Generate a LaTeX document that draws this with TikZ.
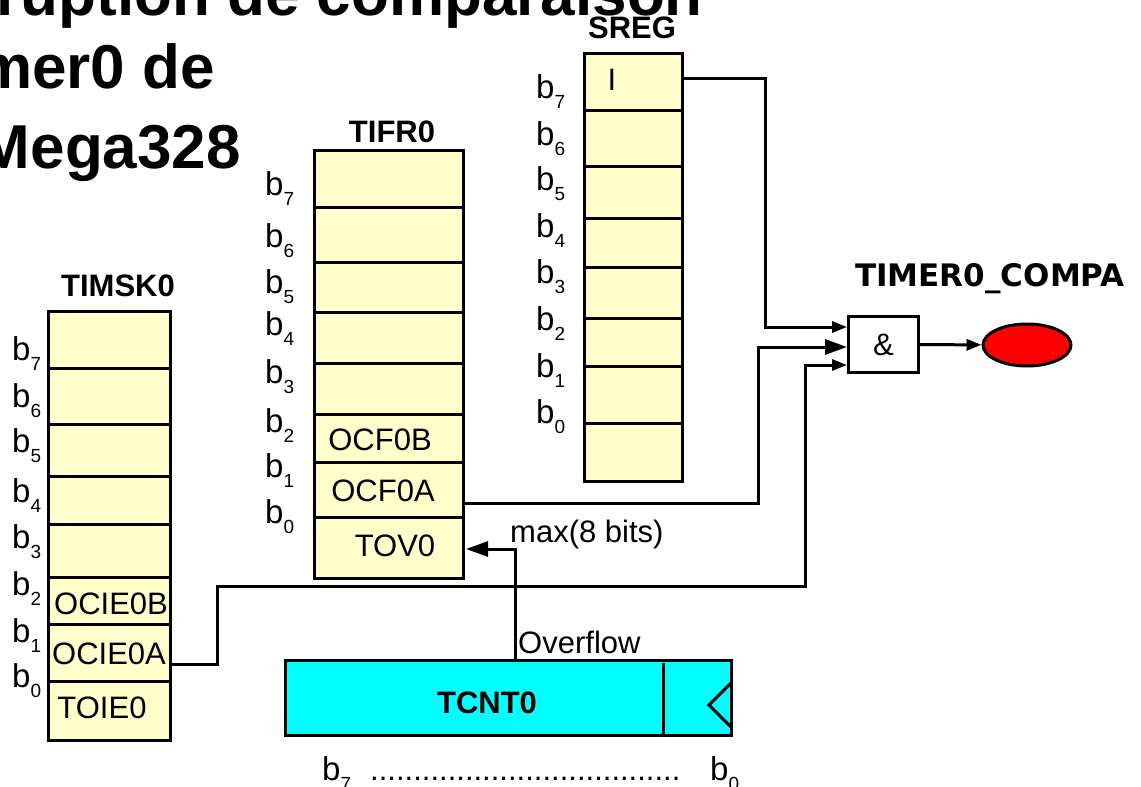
\documentclass[tikz,border=0pt]{standalone}
\usepackage{fontspec}
\setmainfont{Liberation Sans}
\newfontfamily\dejavu{DejaVu Sans}
\usetikzlibrary{shapes.geometric,arrows.meta}

\definecolor{regfill}{HTML}{FFFFCC}
\definecolor{cntfill}{HTML}{00FFFF}
\newcommand{\bitlbl}[1]{{\fontsize{33}{36}\selectfont b}\raisebox{-10pt}{\fontsize{19}{19}\selectfont #1}}

\tikzset{
  reg/.style={draw, fill=regfill, line width=3pt},
  wire/.style={line width=3pt},
  arr/.style={-{Triangle[length=15pt,width=11pt]}},
  bigarr/.style={-{Triangle[length=22pt,width=15pt]}},
  txt/.style={font=\fontsize{31}{36}\selectfont, inner sep=0},
  titulo/.style={font=\bfseries\fontsize{31}{36}\selectfont, inner sep=0},
}

\begin{document}
\begin{tikzpicture}[x=1pt,y=-1pt]
\useasboundingbox (0,0) rectangle (1141,787);
\clip (0,0) rectangle (1141,787);

% titulo (cortado por el borde)
\node[font=\bfseries\fontsize{62}{70}\selectfont, anchor=base east, inner sep=0] (tit1) at (703,16) {Interruption de comparaison};
\node[font=\bfseries\fontsize{62}{70}\selectfont, anchor=base east, inner sep=0] (tit2) at (215,88) {du Timer0 de};
\node[font=\bfseries\fontsize{62}{70}\selectfont, anchor=base east, inner sep=0] (tit3) at (241,168) {l'ATMega328};

% TIMSK0
\draw[reg] (48,311) rectangle (170,740);
\foreach \y in {368,424,476,524,577,624,681}
  \draw[line width=3pt] (48,\y) -- (170,\y);
\node[titulo] (timsk) at (118,286) {TIMSK0};
\foreach \n/\y in {7/360,6/407,5/452,4/502,3/548,2/595,1/642,0/687}
  \node[txt, anchor=base west] (mskb\n) at (12,\y) {\bitlbl{\n}};
\node[txt] (ocieb) at (111,604) {OCIE0B};
\node[txt] (ociea) at (109,654) {OCIE0A};
\node[txt] (toie) at (102,708) {TOIE0};

% TIFR0
\draw[reg] (314,150) rectangle (463,578);
\foreach \y in {207,262,312,363,414,462,517}
  \draw[line width=3pt] (314,\y) -- (463,\y);
\node[titulo] (tifr) at (392,132) {TIFR0};
\foreach \n/\y in {7/195,6/247,5/293,4/335,3/383,2/432,1/477,0/523}
  \node[txt, anchor=base west] (flgb\n) at (265,\y) {\bitlbl{\n}};
\node[txt] (ocfb) at (380,440) {OCF0B};
\node[txt] (ocfa) at (383,491) {OCF0A};
\node[txt] (tovl) at (395,546) {TOV0};

% SREG
\draw[reg] (584,53) rectangle (682,481);
\foreach \y in {110,166,218,267,318,366,423}
  \draw[line width=3pt] (584,\y) -- (682,\y);
\node[titulo] (sreg) at (632,28) {SREG};
\foreach \n/\y in {7/98,6/145,5/190,4/237,3/283,2/330,1/377,0/423}
  \node[txt, anchor=base west] (srb\n) at (536,\y) {\bitlbl{\n}};
\node[txt] (ibit) at (612,80) {I};

% puerta AND y vector
\node[draw, fill=white, line width=3pt, minimum width=70pt, minimum height=56pt,
      font=\fontsize{31}{36}\selectfont] (gate) at (883.5,344.5) {\&};
\node[draw, ellipse, fill=red, line width=3pt, minimum width=88pt,
      minimum height=42pt, inner sep=0] (compa) at (1027,345) {};
\node[font=\dejavu\bfseries\fontsize{31}{36}\selectfont, anchor=base, inner sep=0]
      (compalbl) at (990,286) {TIMER0\_COMPA};

% TCNT0
\node[draw, fill=cntfill, line width=3pt, minimum width=446pt, minimum height=75pt,
      inner sep=0] (tcnt) at (508.5,698) {};
\draw[line width=3pt] (663,663) -- (663,736);
\draw[line width=3pt] (732,682) -- (709,705) -- (732,728); % reloj
\node[titulo] (tcntlbl) at (487,703) {TCNT0};
\node[txt, anchor=base west] (b7) at (322,780) {\bitlbl{7}};
\node[txt, anchor=base west] (dots) at (370,780) {....................................};
\node[txt, anchor=base west] (b0) at (710,780) {\bitlbl{0}};

% puntos de conexion
\coordinate (ipin) at (683,78);
\coordinate (ocfapin) at (465,503);
\coordinate (ociapin) at (172,664);
\coordinate (tovpin) at (466,549);
\coordinate (ovf) at (515,659);
\coordinate (gin1) at ([yshift=17.5pt]gate.west);
\coordinate (gin2) at ([yshift=-2.5pt]gate.west);
\coordinate (gin3) at ([yshift=-20.5pt]gate.west);

% cables
\draw[wire,arr] (ipin) -- (765,78) |- (gin1);
\draw[wire,bigarr] (ocfapin) -- (758,503) |- (gin2);
\draw[wire,arr] (ociapin) -- (217,664) |- (805,586) |- (gin3);
\draw[wire,bigarr] (ovf) |- (tovpin);
\draw[wire,arr] (gate) -- (compa);

\node[txt, anchor=base west] (ovflbl) at (518,653) {Overflow};
\node[txt, anchor=base west] (maxlbl) at (510,542) {max(8 bits)};

\end{tikzpicture}
\end{document}
